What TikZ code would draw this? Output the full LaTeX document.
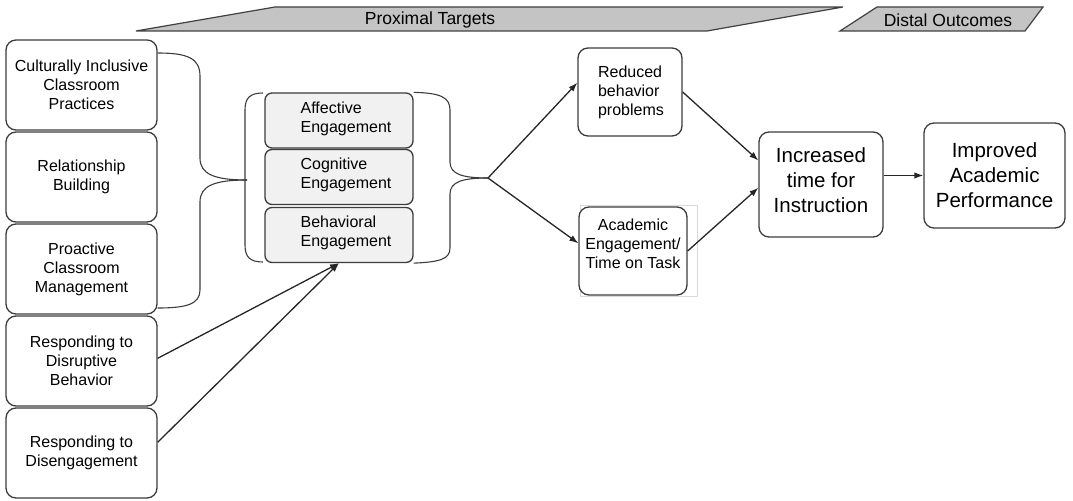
\documentclass[tikz,border=0pt]{standalone}
\usepackage{fontspec}
\setmainfont{Liberation Sans}
\usetikzlibrary{arrows.meta,calc}
\definecolor{edge}{HTML}{3C3C3C}
\definecolor{bannerfill}{HTML}{C4C4C4}
\definecolor{engfill}{HTML}{F1F1F1}
\definecolor{faint}{HTML}{DADADA}
\begin{document}
\begin{tikzpicture}[x=1bp,y=-1bp,
  txt/.style={font=\fontsize{16bp}{19bp}\selectfont},
  bigtxt/.style={font=\fontsize{20.5bp}{25bp}\selectfont},
  bantxt/.style={font=\fontsize{17.5bp}{20bp}\selectfont,inner sep=0pt},
  box/.style={draw=edge,line width=1.3bp,rounded corners=10bp,inner sep=0pt,
    align=center,fill=white},
  leftbox/.style={box,txt,minimum width=151bp,minimum height=90bp},
  engbox/.style={box,fill=engfill,rounded corners=7bp,minimum width=148bp,minimum height=55bp},
  engtext/.style={txt,align=left,inner sep=0pt},
  outbox/.style={box,txt,minimum width=104bp,minimum height=88bp},
  finalbox/.style={box,bigtxt,minimum height=105bp},
  brace/.style={draw=edge,line width=1.1bp},
  link/.style={draw=black!85,line width=1.3bp,-{Latex[length=9bp,width=6.5bp]}},
  banner/.style={draw=black!75,line width=1.2bp,fill=bannerfill}]
\useasboundingbox (0,0) rectangle (1073,501);

% banners along the top
\path[banner] (136,31) -- (275,7) -- (843,7) -- (707,31) -- cycle;
\path[banner] (840,31) -- (877,7) -- (1043,7) -- (1025,31) -- cycle;
\node[bantxt] (prox) at (430,20) {Proximal Targets};
\node[bantxt] (dist) at (948,20) {Distal Outcomes};

% practices column
\node[leftbox] (cult) at (81.5,85)  {Culturally Inclusive\\Classroom\\Practices};
\node[leftbox] (rel)  at (81.5,177) {Relationship\\Building};
\node[leftbox] (proa) at (81.5,269) {Proactive\\Classroom\\Management};
\node[leftbox] (disr) at (81.5,361) {Responding to\\Disruptive\\Behavior};
\node[leftbox] (dise) at (81.5,453) {Responding to\\Disengagement};

% engagement stack
\node[engbox] (aff) at (339,120.5) {};
\node[engbox] (cog) at (339,177)   {};
\node[engbox] (bev) at (339,235)   {};
\node[engtext] at (346,119) {Affective\\Engagement};
\node[engtext] at (346,175) {Cognitive\\Engagement};
\node[engtext] at (346,233) {Behavioral\\Engagement};

% brace joining the first three practices
\coordinate (lbtip) at (247,180);
\draw[brace] (cult.east |- 0,53) .. controls (187,53) and (200,58) .. (200,76)
  -- (200,158) .. controls (200,174) and (214,180) .. (lbtip);
\draw[brace] (lbtip) .. controls (214,180) and (200,186) .. (200,202)
  -- (200,290) .. controls (200,304) and (187,308) .. (proa.east |- 0,308);

% bracket around the engagement stack
\draw[brace] (263,93) .. controls (250,93) and (245,98) .. (245,110)
  -- (245,245) .. controls (245,257) and (250,262) .. (263,262);

% brace leading to the proximal outcomes
\coordinate (rbtip) at (488,178);
\draw[brace] (aff.north east) .. controls (440,93) and (450,97) .. (450,110)
  -- (450,162) .. controls (450,174) and (462,178) .. (rbtip);
\draw[brace] (rbtip) .. controls (462,178) and (450,182) .. (450,194)
  -- (450,248) .. controls (450,259) and (440,262) .. (bev.south east);

% proximal and distal outcomes
\node[outbox] (red) at (630,92) {};
\node[txt,align=left,inner sep=0pt] at (631,92) {Reduced\\behavior\\problems};
\draw[faint,line width=0.6bp] (580,205) rectangle (697,296);
\node[outbox,minimum width=108bp] (acad) at (633,251) {};
\node[txt,align=center,inner sep=0pt] at (633,244) {Academic\\Engagement/\\Time on Task};
\node[finalbox,minimum width=124bp] (inc) at (821,184.5) {};
\node[bigtxt,align=center,inner sep=0pt] at (821,180) {Increased\\time for\\Instruction};
\node[finalbox,minimum width=141bp] (imp) at (994.5,175.5) {Improved\\Academic\\Performance};

% connectors
\draw[link] (disr.2) -- (bev.south);
\draw[link] (dise.8) -- (bev.south);
\draw[link] (rbtip) -- (red.170);
\draw[link] (rbtip) -- (acad.172);
\draw[link] (red.east) -- (inc.159);
\draw[link] (acad.east) -- (inc.183);
\draw[link] (inc.east |- imp.west) -- (imp.west);
\end{tikzpicture}
\end{document}
